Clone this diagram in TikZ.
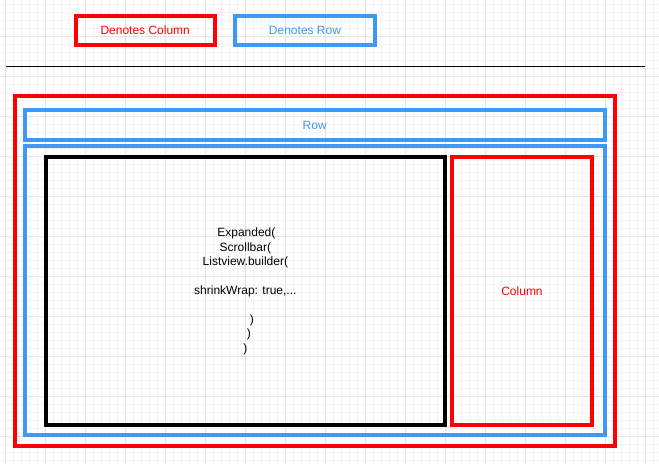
\documentclass[tikz,border=0pt]{standalone}
\usepackage{fontspec}
\setmainfont{Liberation Sans}
\definecolor{myred}{HTML}{FF0000}
\definecolor{myblue}{HTML}{3D99F5}
\definecolor{gridmajor}{HTML}{E3E3E3}
\definecolor{gridminor}{HTML}{F4F4F4}
\tikzset{
  box/.style={draw, line width=4pt, rectangle, inner sep=0pt, outer sep=0pt,
    font=\fontsize{12}{14.4}\selectfont},
  redbox/.style={box, draw=myred, text=myred},
  bluebox/.style={box, draw=myblue, text=myblue},
  blackbox/.style={box, draw=black, text=black},
  minorline/.style={draw=gridminor, line width=1pt},
  majorline/.style={draw=gridmajor, line width=1pt},
}
\begin{document}
\begin{tikzpicture}[x=1pt,y=-1pt]
\useasboundingbox (0,0) rectangle (659,464);
\fill[white] (0,0) rectangle (659,464);
% grid
\foreach \x in {5,13,...,659} \draw[minorline] (\x,0) -- (\x,464);
\foreach \y in {4,12,...,464} \draw[minorline] (0,\y) -- (659,\y);
\foreach \x in {5,45,...,645} \draw[majorline] (\x,0) -- (\x,464);
\foreach \y in {36,76,...,456} \draw[majorline] (0,\y) -- (659,\y);
% legend
\node[redbox, minimum width=139.5pt, minimum height=29pt] (legcol) at (145.25,30.5) {Denotes Column};
\node[bluebox, minimum width=140pt, minimum height=29pt] (legrow) at (305,30.5) {Denotes Row};
% separator
\coordinate (sepL) at (6,66.5);
\coordinate (sepR) at (645,66.5);
\draw[line width=1pt] (sepL) -- (sepR);
% containers
\node[redbox, minimum width=599.7pt, minimum height=350pt] (outer) at (314.85,271) {};
\node[bluebox, minimum width=580pt, minimum height=30pt] (row1) at (314.7,125) {Row};
\node[bluebox, minimum width=580pt, minimum height=289.3pt] (row2) at (314.7,290.65) {};
\node[blackbox, minimum width=398.7pt, minimum height=268pt, align=center] (main) at (245.35,291.3)
  {\hspace*{2pt}Expanded(\\Scrollbar(\\Listview.builder(\\[14.4pt]shrinkWrap: true,...\\[14.4pt]\hspace*{13pt})\\\hspace*{7pt})\\)};
\node[redbox, minimum width=140pt, minimum height=268pt] (col) at (522,291.3) {Column};
\end{tikzpicture}
\end{document}
